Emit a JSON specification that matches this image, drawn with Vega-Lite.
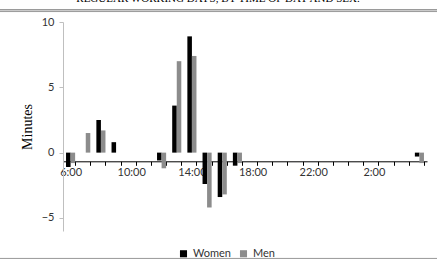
{
  "$schema": "https://vega.github.io/schema/vega-lite/v6.json",
  "width": 364,
  "height": 209,
  "autosize": {"type": "none"},
  "padding": {"left": 63, "top": 22, "right": 10, "bottom": 45},
  "background": "white",
  "title": {
    "text": "REGULAR WORKING DAYS, BY TIME OF DAY AND SEX.",
    "font": "Liberation Serif",
    "fontSize": 11,
    "fontWeight": "normal",
    "color": "#000000",
    "anchor": "middle",
    "baseline": "bottom",
    "offset": 4,
    "dx": -27,
    "dy": 10
  },
  "config": {"view": {"stroke": null}},
  "data": {
    "values": [
      {"hour": "6:00", "sex": "Women", "value": -1.1}, {"hour": "6:00", "sex": "Men", "value": -0.8},
      {"hour": "7:00", "sex": "Women", "value": 0}, {"hour": "7:00", "sex": "Men", "value": 1.5},
      {"hour": "8:00", "sex": "Women", "value": 2.5}, {"hour": "8:00", "sex": "Men", "value": 1.7},
      {"hour": "9:00", "sex": "Women", "value": 0.8}, {"hour": "9:00", "sex": "Men", "value": 0},
      {"hour": "10:00", "sex": "Women", "value": 0}, {"hour": "10:00", "sex": "Men", "value": 0},
      {"hour": "11:00", "sex": "Women", "value": 0}, {"hour": "11:00", "sex": "Men", "value": 0},
      {"hour": "12:00", "sex": "Women", "value": -0.6}, {"hour": "12:00", "sex": "Men", "value": -1.2},
      {"hour": "13:00", "sex": "Women", "value": 3.6}, {"hour": "13:00", "sex": "Men", "value": 7.0},
      {"hour": "14:00", "sex": "Women", "value": 8.9}, {"hour": "14:00", "sex": "Men", "value": 7.4},
      {"hour": "15:00", "sex": "Women", "value": -2.4}, {"hour": "15:00", "sex": "Men", "value": -4.2},
      {"hour": "16:00", "sex": "Women", "value": -3.4}, {"hour": "16:00", "sex": "Men", "value": -3.2},
      {"hour": "17:00", "sex": "Women", "value": -1.0}, {"hour": "17:00", "sex": "Men", "value": -0.8},
      {"hour": "18:00", "sex": "Women", "value": 0}, {"hour": "18:00", "sex": "Men", "value": 0},
      {"hour": "19:00", "sex": "Women", "value": 0}, {"hour": "19:00", "sex": "Men", "value": 0},
      {"hour": "20:00", "sex": "Women", "value": 0}, {"hour": "20:00", "sex": "Men", "value": 0},
      {"hour": "21:00", "sex": "Women", "value": 0}, {"hour": "21:00", "sex": "Men", "value": 0},
      {"hour": "22:00", "sex": "Women", "value": 0}, {"hour": "22:00", "sex": "Men", "value": 0},
      {"hour": "23:00", "sex": "Women", "value": 0}, {"hour": "23:00", "sex": "Men", "value": 0},
      {"hour": "0:00", "sex": "Women", "value": 0}, {"hour": "0:00", "sex": "Men", "value": 0},
      {"hour": "1:00", "sex": "Women", "value": 0}, {"hour": "1:00", "sex": "Men", "value": 0},
      {"hour": "2:00", "sex": "Women", "value": 0}, {"hour": "2:00", "sex": "Men", "value": 0},
      {"hour": "3:00", "sex": "Women", "value": 0}, {"hour": "3:00", "sex": "Men", "value": 0},
      {"hour": "4:00", "sex": "Women", "value": 0}, {"hour": "4:00", "sex": "Men", "value": 0},
      {"hour": "5:00", "sex": "Women", "value": -0.3}, {"hour": "5:00", "sex": "Men", "value": -0.8}
    ]
  },
  "layer": [
    {
      "mark": {"type": "bar"},
      "encoding": {
        "x": {
          "field": "hour",
          "type": "nominal",
          "sort": ["6:00","7:00","8:00","9:00","10:00","11:00","12:00","13:00","14:00","15:00","16:00","17:00","18:00","19:00","20:00","21:00","22:00","23:00","0:00","1:00","2:00","3:00","4:00","5:00"],
          "scale": {"paddingInner": 0.4, "paddingOuter": 0.2},
          "axis": {
            "title": null,
            "orient": "bottom",
            "offset": -69.7,
            "tickBand": "extent",
            "labelAngle": 0,
            "domainColor": "#000000",
            "tickColor": "#000000",
            "tickSize": 4,
            "labelPadding": 1,
            "labelFont": "Lato",
            "labelFontSize": 11,
            "labelColor": "#333333",
            "labelExpr": "indexof(['6:00','10:00','14:00','18:00','22:00','2:00'], datum.value) >= 0 ? datum.value : ''"
          }
        },
        "xOffset": {"field": "sex", "type": "nominal", "sort": ["Women", "Men"]},
        "y": {
          "field": "value",
          "type": "quantitative",
          "scale": {"domain": [-5, 10]},
          "axis": {
            "title": "Minutes",
            "titleFont": "Liberation Serif",
            "titleFontSize": 14,
            "titleFontWeight": "normal",
            "titleColor": "#000000",
            "titlePadding": 7,
            "values": [-5, 0, 5, 10],
            "grid": false,
            "domainColor": "#bfbfbf",
            "tickColor": "#bfbfbf",
            "tickSize": 4,
            "labelPadding": 5,
            "labelFont": "Lato",
            "labelFontSize": 11,
            "labelColor": "#333333"
          }
        },
        "color": {
          "field": "sex",
          "type": "nominal",
          "scale": {"domain": ["Women", "Men"], "range": ["#000000", "#8c8c8c"]},
          "legend": {
            "title": null,
            "orient": "none",
            "legendX": 115,
            "legendY": 226,
            "direction": "horizontal",
            "symbolType": "square",
            "symbolSize": 50,
            "symbolStrokeWidth": 0,
            "padding": 0,
            "columnPadding": 6,
            "labelFont": "Lato",
            "labelFontSize": 11,
            "labelColor": "#333333"
          }
        }
      }
    },
    {
      "data": {"values": [{}]},
      "mark": {"type": "rule", "color": "#666666", "strokeWidth": 1},
      "encoding": {"y": {"datum": 10.93}, "x": {"value": -63}, "x2": {"value": 374}}
    },
    {
      "data": {"values": [{}]},
      "mark": {"type": "rule", "color": "#999999", "strokeWidth": 1},
      "encoding": {"y": {"datum": 10.8}, "x": {"value": -63}, "x2": {"value": 374}}
    },
    {
      "data": {"values": [{}]},
      "mark": {"type": "rule", "color": "#999999", "strokeWidth": 1},
      "encoding": {"y": {"datum": -8.1}, "x": {"value": -63}, "x2": {"value": 374}}
    }
  ]
}
